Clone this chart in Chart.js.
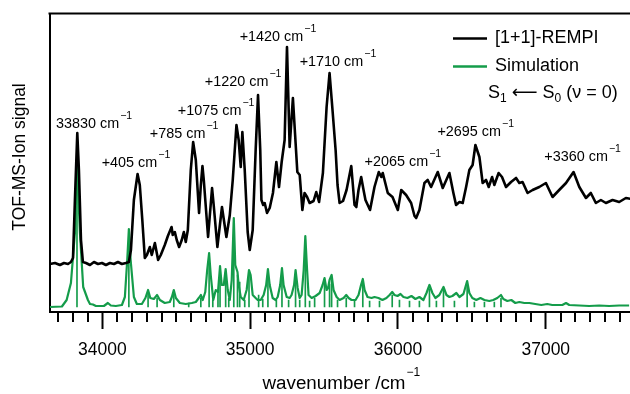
<!DOCTYPE html>
<html><head><meta charset="utf-8">
<script src="https://cdn.jsdelivr.net/npm/chart.js@4.4.1/dist/chart.umd.min.js"></script>
<style>html,body{margin:0;padding:0;background:#fff;}#wrap{width:630px;height:394px;position:relative;}</style>
</head><body><div id="wrap"><canvas id="c"></canvas></div>
<script>
const FONT = '"Liberation Sans", Arial, sans-serif';
const GREEN = '#149c4a';
const xMin = 33642, xMax = 37570;
const majorTicks = [34000, 35000, 36000, 37000];
const minorStep = 100;

// [1+1]-REMPI trace: wavenumber (cm-1) and signal (arb. units)
const remX = [33645,33679,33713,33740,33767,33787,33801,33814,33830,33841,
 33855,33868,33889,33916,33943,33970,33997,34024,34051,34078,
 34105,34132,34159,34179,34193,34213,34238,34253,34270,34287,
 34301,34321,34334,34355,34377,34395,34422,34443,34468,34476,
 34490,34503,34519,34537,34551,34564,34578,34598,34614,34632,
 34654,34666,34677,34686,34715,34742,34753,34778,34809,34839,
 34862,34882,34907,34922,34936,34947,34963,34983,34997,35017,
 35037,35053,35068,35076,35088,35098,35114,35132,35154,35177,
 35195,35213,35233,35249,35267,35289,35304,35319,35335,35353,
 35368,35385,35402,35429,35447,35466,35492,35517,35537,35557,
 35578,35591,35605,35628,35652,35684,35706,35718,35733,35751,
 35767,35780,35811,35841,35870,35887,35897,35931,35963,35999,
 36022,36055,36089,36112,36123,36145,36179,36201,36224,36269,
 36303,36348,36375,36393,36416,36438,36461,36483,36505,36524,
 36551,36573,36596,36614,36637,36652,36681,36704,36731,36765,
 36799,36821,36843,36877,36911,36956,37001,37046,37091,37137,
 37188,37227,37272,37305,37339,37373,37407,37452,37497,37542,
 37578];
const remY = [48,49,47,49,48,50,54,112,179,142,
 72,50,49,47,50,48,49,47,49,48,
 50,48,49,50,62,112,138,127,92,54,
 57,65,57,69,52,57,67,76,85,77,
 80,72,65,72,80,70,82,142,170,152,
 99,127,146,132,75,124,107,65,105,75,
 97,132,187,172,145,180,142,80,62,82,
 162,217,162,112,107,109,99,104,119,150,
 125,150,172,265,165,214,177,140,137,102,
 119,115,109,111,120,110,139,205,239,202,
 162,127,109,111,122,146,107,105,122,135,
 122,112,102,125,140,135,139,119,115,102,
 122,117,109,96,94,102,129,132,125,140,
 124,139,119,107,110,109,125,142,147,167,
 155,129,132,125,135,127,139,135,125,130,
 134,129,130,119,122,125,129,115,122,129,
 140,125,114,119,109,112,109,112,110,114,
 113];

// Simulation (broadened) trace
const simX = [33645,33726,33758,33787,33814,33828,33848,33870,33902,33916,
 33936,33956,34010,34037,34057,34091,34132,34152,34168,34179,
 34191,34213,34233,34267,34291,34309,34324,34348,34370,34389,
 34422,34456,34470,34483,34497,34524,34564,34605,34632,34652,
 34666,34679,34696,34709,34722,34733,34750,34767,34782,34796,
 34807,34821,34834,34848,34862,34875,34889,34899,34914,34922,
 34936,34956,34976,34992,35003,35017,35037,35051,35071,35091,
 35108,35120,35132,35152,35172,35186,35203,35215,35226,35247,
 35267,35280,35297,35307,35321,35335,35348,35362,35373,35385,
 35395,35416,35443,35470,35490,35503,35517,35527,35537,35551,
 35564,35585,35605,35632,35650,35666,35686,35713,35733,35750,
 35762,35774,35794,35821,35841,35868,35895,35922,35943,35961,
 35976,35997,36017,36037,36064,36091,36118,36145,36172,36193,
 36213,36233,36253,36280,36308,36328,36348,36368,36395,36416,
 36443,36468,36483,36503,36530,36558,36585,36618,36645,36672,
 36697,36713,36740,36767,36794,36821,36855,36889,36929,36970,
 37010,37044,37078,37112,37137,37159,37227,37294,37362,37429,
 37497,37564];
const simY = [5,5.5,12,29,79,149,79,25,12,8,
 7.5,6,6,9,6.5,6,7,15,52,83,
 52,15,8,8,14,22,14,13,17,12,
 9,10,15,22,14,9,8,9,10,14,
 17,12,20,42,59,37,12,22,20,46,
 27,27,43,22,12,32,94,47,40,27,
 15,12,22,42,37,17,14,12,12,17,
 27,43,27,14,12,15,27,44,27,15,
 14,17,27,42,24,14,17,42,76,42,
 17,14,16,19,27,34,22,24,32,37,
 22,15,12,14,17,14,12,12,17,27,
 33,22,15,14,15,14,12,14,17,20,
 17,16,18,15,14,16,13,15,12,19,
 27,19,14,17,25,17,15,16,19,15,
 18,31,19,14,12,14,12,11,12,14,
 17,13,11,12,9,10,9,9,8,7,
 8,7,7,7,9,7,6.5,6,6.5,6,
 6.5,6.5];

// Simulation stick spectrum
const stickX = [33828,34179,34309,34370,34483,34584,34666,34722,34747,34782,
 34796,34834,34855,34889,34914,34929,34963,34992,35057,35085,
 35120,35177,35215,35260,35307,35335,35373,35402,35436,35503,
 35537,35551,35591,35650,35706,35762,35808,35875,35961,36010,
 36078,36145,36213,36260,36308,36382,36468,36517,36585,36652,
 36697];
const stickY = [147,80,19,14,19,9,14,54,12,20,
 42,40,14,90,37,30,12,38,17,13,
 40,12,40,12,38,12,72,11,14,30,
 28,32,12,14,11,29,11,11,17,12,
 11,11,23,11,22,11,27,10,10,10,
 14];
const stickBase = 5;

// Peak annotations: text, left edge (cm-1), vertical centre (signal units)
const annotations = [
 {text:'33830 cm', v:33686, y:188},
 {text:'+405 cm', v:33995, y:149},
 {text:'+785 cm', v:34321, y:178},
 {text:'+1075 cm', v:34510, y:201},
 {text:'+1220 cm', v:34693, y:230},
 {text:'+1420 cm', v:34929, y:275},
 {text:'+1710 cm', v:35335, y:250},
 {text:'+2065 cm', v:35774, y:150},
 {text:'+2695 cm', v:36267, y:180},
 {text:'+3360 cm', v:36990, y:155}
];
const xTitle = 'wavenumber /cm';
const yTitle = 'TOF-MS-Ion signal';
const sup = '\u22121';

const toPts = (xs, ys) => xs.map((v, i) => ({x: v, y: ys[i]}));

const decor = {
  id: 'decor',
  afterDraw(chart) {
    const {ctx, chartArea: ca, scales: {x, y}} = chart;
    ctx.save();
    // top frame
    ctx.strokeStyle = '#000'; ctx.lineWidth = 2;
    ctx.beginPath(); ctx.moveTo(ca.left - 1, ca.top); ctx.lineTo(ca.right, ca.top); ctx.stroke();
    // minor ticks
    ctx.beginPath();
    for (let v = Math.ceil(xMin / minorStep) * minorStep; v <= xMax; v += minorStep) {
      if (v % 1000 === 0) continue;
      const px = Math.round(x.getPixelForValue(v));
      ctx.moveTo(px, ca.bottom); ctx.lineTo(px, ca.bottom + 10);
    }
    ctx.stroke();
    // annotations
    ctx.fillStyle = '#000';
    ctx.textBaseline = 'middle'; ctx.textAlign = 'left';
    annotations.forEach(a => {
      const px = x.getPixelForValue(a.v), py = y.getPixelForValue(a.y);
      ctx.font = '14.4px ' + FONT;
      ctx.fillText(a.text, px, py);
      const w = ctx.measureText(a.text).width;
      ctx.font = '10.5px ' + FONT;
      ctx.fillText(sup, px + w + 1, py - 8);
    });
    // legend
    const ds = chart.data.datasets;
    const rows = [38.5, 66.5];
    [0, 1].forEach(i => {
      ctx.strokeStyle = ds[i].borderColor; ctx.lineWidth = 2.6;
      ctx.beginPath(); ctx.moveTo(453, rows[i]); ctx.lineTo(487, rows[i]); ctx.stroke();
      ctx.fillStyle = '#000'; ctx.font = '18px ' + FONT;
      ctx.fillText(ds[i].label, 495, rows[i]);
    });
    // S1 <- S0 (v = 0)
    let cx = 488; const cy = 93;
    const parts = [['S', 0, FONT], ['1', 1, FONT], [' ', 0, FONT], ['\u27f5', 0, '"DejaVu Sans", sans-serif'], [' S', 0, FONT], ['0', 1, FONT], [' (\u03bd = 0)', 0, FONT]];
    parts.forEach(([t, s, f]) => {
      ctx.font = (s ? '12px ' : '18px ') + f;
      ctx.fillText(t, cx, cy + (s ? 6 : 0));
      cx += ctx.measureText(t).width;
    });
    // x title
    ctx.font = '18.8px ' + FONT;
    ctx.textAlign = 'center';
    const tw = ctx.measureText(xTitle).width;
    const tx = 334;
    ctx.fillText(xTitle, tx, 384);
    ctx.textAlign = 'left';
    ctx.font = '12px ' + FONT;
    ctx.fillText(sup, tx + tw / 2 + 1, 373);
    // y title
    ctx.save();
    ctx.translate(20, 157); ctx.rotate(-Math.PI / 2);
    ctx.textAlign = 'center'; ctx.font = '17.5px ' + FONT;
    ctx.fillText(yTitle, 0, 0);
    ctx.restore();
    ctx.restore();
  }
};

new Chart(document.getElementById('c'), {
  type: 'line',
  data: {
    datasets: [
      {type: 'line', label: '[1+1]-REMPI', data: toPts(remX, remY), borderColor: '#000', backgroundColor: '#000',
       borderWidth: 2.6, pointRadius: 0, tension: 0, fill: false, order: 1,
       borderJoinStyle: 'round', borderCapStyle: 'round'},
      {type: 'line', label: 'Simulation', data: toPts(simX, simY), borderColor: GREEN, backgroundColor: GREEN,
       borderWidth: 2.2, pointRadius: 0, tension: 0, fill: false, order: 2, borderJoinStyle: 'round'},
      {type: 'bar', label: 'Sticks', data: toPts(stickX, stickY), backgroundColor: GREEN, borderWidth: 0,
       barThickness: 1, base: stickBase, order: 3}
    ]
  },
  options: {
    responsive: true, maintainAspectRatio: false, animation: false,
    layout: {padding: {top: 13.5, left: 0, right: 0, bottom: 0}},
    plugins: {legend: {display: false}, tooltip: {enabled: false}},
    scales: {
      x: {type: 'linear', min: xMin, max: xMax, offset: false,
        afterBuildTicks: s => { s.ticks = majorTicks.map(v => ({value: v})); },
        afterFit: s => { s.height = 82; },
        ticks: {callback: v => String(v), color: '#000', font: {family: FONT, size: 17.5}, padding: 11, maxRotation: 0, autoSkip: false},
        grid: {display: true, offset: false, drawOnChartArea: false, drawTicks: true, tickLength: 17, tickWidth: 2, tickColor: '#000', color: '#000'},
        border: {display: true, color: '#000', width: 2}},
      y: {type: 'linear', min: 0, max: 298.5,
        afterFit: s => { s.width = 49.5; },
        ticks: {display: false}, grid: {display: false, drawTicks: false},
        border: {display: true, color: '#000', width: 2}}
    }
  },
  plugins: [decor]
});
</script>
</body></html>
